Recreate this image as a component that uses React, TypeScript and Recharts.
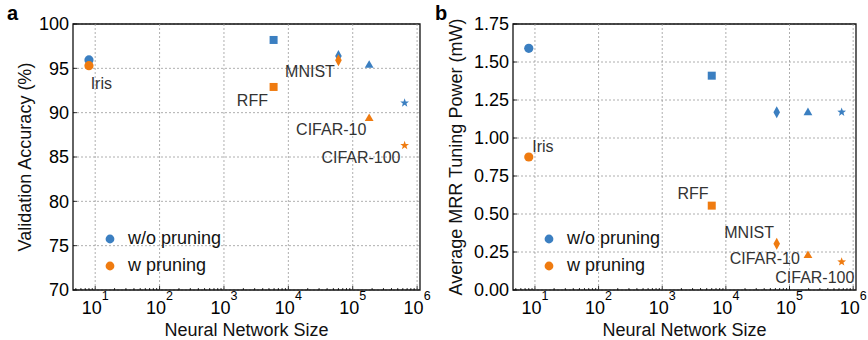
import { ScatterChart, Scatter, XAxis, YAxis, CartesianGrid, ReferenceLine, ReferenceArea, ReferenceDot, Legend } from "recharts";

const BLUE = "#3b7fc1";
const ORANGE = "#ef7b10";
const FONT = "'Liberation Sans', Arial, sans-serif";

const DATASETS = ["Iris", "RFF", "MNIST", "CIFAR-10", "CIFAR-100"];
const MARKERS = ["circle", "square", "diamond", "triangle", "star"];
const SIZES_A = [8, 5900, 60000, 180000, 640000];
const SIZES_B = [8, 6000, 63000, 195000, 660000];

const ACC_NO_PRUNE = [95.95, 98.2, 96.4, 95.4, 91.1];
const ACC_PRUNE = [95.3, 92.9, 95.9, 89.4, 86.3];
const POWER_NO_PRUNE = [1.59, 1.41, 1.17, 1.17, 1.17];
const POWER_PRUNE = [0.875, 0.555, 0.305, 0.23, 0.185];

// label anchors (left edge, vertical middle) in data coordinates
const LABELS_A = [
  { text: "Iris", x: 8.5, y: 93.35 },
  { text: "RFF", x: 1585, y: 91.43 },
  { text: "MNIST", x: 8900, y: 94.7 },
  { text: "CIFAR-10", x: 13200, y: 88.16 },
  { text: "CIFAR-100", x: 32600, y: 84.97 },
];
const LABELS_B = [
  { text: "Iris", x: 9.06, y: 0.949 },
  { text: "RFF", x: 1734, y: 0.636 },
  { text: "MNIST", x: 9440, y: 0.382 },
  { text: "CIFAR-10", x: 11480, y: 0.206 },
  { text: "CIFAR-100", x: 59700, y: 0.081 },
];

const X_DOMAIN = [4.52, 1.109e6];
const X_MAJOR = [10, 100, 1000, 10000, 100000, 1000000];
const X_MINOR = [5, 6, 7, 8, 9, 20, 30, 40, 50, 60, 70, 80, 90, 200, 300, 400, 500, 600, 700, 800, 900,
  2000, 3000, 4000, 5000, 6000, 7000, 8000, 9000, 20000, 30000, 40000, 50000, 60000, 70000, 80000, 90000,
  200000, 300000, 400000, 500000, 600000, 700000, 800000, 900000];

const ACC_TICKS = [70, 75, 80, 85, 90, 95, 100];
const POWER_TICKS = [0, 0.25, 0.5, 0.75, 1.0, 1.25, 1.5, 1.75];

const SERIES = ["w/o pruning", "w pruning"];

function rows(sizes: number[], values: number[]) {
  return DATASETS.map((name, i) => ({ name, size: sizes[i], value: values[i], marker: MARKERS[i] }));
}

function Marker(props: any) {
  const { cx, cy, fill, payload } = props;
  if (cx == null || cy == null) return null;
  switch (payload.marker) {
    case "square":
      return <rect x={cx - 4} y={cy - 4} width={8} height={8} fill={fill} />;
    case "diamond":
      return <polygon points={`${cx},${cy - 6} ${cx + 3.3},${cy} ${cx},${cy + 6} ${cx - 3.3},${cy}`} fill={fill} />;
    case "triangle":
      return <polygon points={`${cx},${cy - 4.6} ${cx + 4.4},${cy + 3} ${cx - 4.4},${cy + 3}`} fill={fill} />;
    case "star": {
      const pts: string[] = [];
      for (let k = 0; k < 10; k++) {
        const r = k % 2 === 0 ? 4.6 : 1.9;
        const a = -Math.PI / 2 + (k * Math.PI) / 5;
        pts.push(`${cx + r * Math.cos(a)},${cy + r * Math.sin(a)}`);
      }
      return <polygon points={pts.join(" ")} fill={fill} />;
    }
    default:
      return <circle cx={cx} cy={cy} r={4.6} fill={fill} />;
  }
}

function XTick(props: any) {
  const { x, y, payload } = props;
  const lg = Math.log10(payload.value);
  const exp = Math.round(lg);
  const major = Math.abs(lg - exp) < 1e-6;
  return (
    <g>
      <line x1={x} x2={x} y1={y} y2={y - (major ? 4 : 2)} stroke="#000" strokeWidth={0.8} />
      {major && (
        <text x={x} y={y + 24} textAnchor="middle" fontSize={18} fill="#000" fontFamily={FONT}>
          <tspan>10</tspan>
          <tspan dy={-14} fontSize={12.5}>{exp}</tspan>
        </text>
      )}
    </g>
  );
}

function makeYTick(fmt: (v: number) => string) {
  return (props: any) => {
    const { x, y, payload } = props;
    return (
      <g>
        <line x1={x} x2={x + 4} y1={y} y2={y} stroke="#000" strokeWidth={0.8} />
        <text x={x - 4} y={y} dy="0.36em" textAnchor="end" fontSize={18} fill="#000" fontFamily={FONT}>
          {fmt(payload.value)}
        </text>
      </g>
    );
  };
}

function LegendBox() {
  return (
    <div style={{ fontFamily: FONT, fontSize: 18, color: "#111" }}>
      {SERIES.map((s, i) => (
        <div key={s} style={{ display: "flex", alignItems: "center", height: 27 }}>
          <svg width={10} height={10} style={{ marginRight: 13 }}>
            <circle cx={5} cy={5} r={4.4} fill={i === 0 ? BLUE : ORANGE} />
          </svg>
          <span>{s}</span>
        </div>
      ))}
    </div>
  );
}

type PanelProps = {
  blue: any[];
  orange: any[];
  yDomain: number[];
  yTicks: number[];
  fmt: (v: number) => string;
  yLabel: string;
  yLabelX: number;
  labels: { text: string; x: number; y: number }[];
  yWidth: number;
  right: number;
  legendLeft: number;
  legendTop: number;
};

function Panel(p: PanelProps) {
  const grid = { stroke: "#9a9a9a", strokeDasharray: "2 2", strokeWidth: 0.8 };
  return (
    <ScatterChart width={434} height={340} margin={{ top: 24, right: p.right, bottom: 0, left: 0 }}>
      <CartesianGrid vertical={false} {...grid} />
      {X_MAJOR.map((v) => (
        <ReferenceLine key={v} x={v} {...grid} ifOverflow="visible" />
      ))}
      <XAxis
        type="number"
        dataKey="size"
        scale="log"
        domain={X_DOMAIN}
        allowDataOverflow
        ticks={[...X_MAJOR, ...X_MINOR].sort((a, b) => a - b)}
        interval={0}
        tickSize={0}
        tickMargin={0}
        tickLine={false}
        axisLine={false}
        height={50}
        tick={<XTick />}
        label={{
          content: ({ viewBox }: any) => (
            <text x={viewBox.x + viewBox.width / 2} y={viewBox.y + 45.5} textAnchor="middle" fontSize={18} fill="#111" fontFamily={FONT}>
              Neural Network Size
            </text>
          ),
        }}
      />
      <YAxis
        type="number"
        dataKey="value"
        domain={p.yDomain}
        ticks={p.yTicks}
        interval={0}
        tickSize={0}
        tickMargin={0}
        tickLine={false}
        axisLine={false}
        width={p.yWidth}
        tick={makeYTick(p.fmt)}
        label={{
          content: ({ viewBox }: any) => {
            const cy = viewBox.y + viewBox.height / 2;
            return (
              <text
                x={p.yLabelX}
                y={cy}
                transform={`rotate(-90 ${p.yLabelX} ${cy})`}
                textAnchor="middle"
                dy="0.36em"
                fontSize={18}
                fill="#111"
                fontFamily={FONT}
              >
                {p.yLabel}
              </text>
            );
          },
        }}
      />
      <ReferenceArea x1={X_DOMAIN[0]} x2={X_DOMAIN[1]} y1={p.yDomain[0]} y2={p.yDomain[1]} fill="none" stroke="#111" strokeWidth={1.3} ifOverflow="visible" />
      <Scatter name={SERIES[0]} data={p.blue} fill={BLUE} shape={Marker} isAnimationActive={false} />
      <Scatter name={SERIES[1]} data={p.orange} fill={ORANGE} shape={Marker} isAnimationActive={false} />
      {p.labels.map((l) => (
        <ReferenceDot
          key={l.text}
          x={l.x}
          y={l.y}
          ifOverflow="visible"
          shape={(s: any) => (
            <text x={s.cx} y={s.cy} dy="0.36em" fontSize={16} fill="#333" fontFamily={FONT}>
              {l.text}
            </text>
          )}
        />
      ))}
      <Legend
        layout="horizontal"
        align="center"
        verticalAlign="middle"
        content={() => <LegendBox />}
        wrapperStyle={{ left: p.legendLeft, top: p.legendTop, width: "auto", height: "auto" }}
      />
    </ScatterChart>
  );
}

export default function App() {
  return (
    <div style={{ position: "absolute", left: 0, top: 0, width: 868, height: 340, background: "#fff", fontFamily: FONT }}>
      <div style={{ display: "flex" }}>
        <Panel
          blue={rows(SIZES_A, ACC_NO_PRUNE)}
          orange={rows(SIZES_A, ACC_PRUNE)}
          yDomain={[70, 100]}
          yTicks={ACC_TICKS}
          fmt={(v) => String(v)}
          yLabel="Validation Accuracy (%)"
          yLabelX={25}
          labels={LABELS_A}
          yWidth={73}
          right={14}
          legendLeft={105}
          legendTop={225}
        />
        <Panel
          blue={rows(SIZES_B, POWER_NO_PRUNE)}
          orange={rows(SIZES_B, POWER_PRUNE)}
          yDomain={[0, 1.75]}
          yTicks={POWER_TICKS}
          fmt={(v) => v.toFixed(2)}
          yLabel="Average MRR Tuning Power (mW)"
          yLabelX={22}
          labels={LABELS_B}
          yWidth={79}
          right={12}
          legendLeft={110}
          legendTop={225}
        />
      </div>
      <svg width={868} height={340} style={{ position: "absolute", left: 0, top: 0, pointerEvents: "none" }}>
        <text x={7} y={20} fontSize={20} fontWeight="bold" fill="#000" fontFamily={FONT}>a</text>
        <text x={435} y={20} fontSize={20} fontWeight="bold" fill="#000" fontFamily={FONT}>b</text>
      </svg>
    </div>
  );
}
